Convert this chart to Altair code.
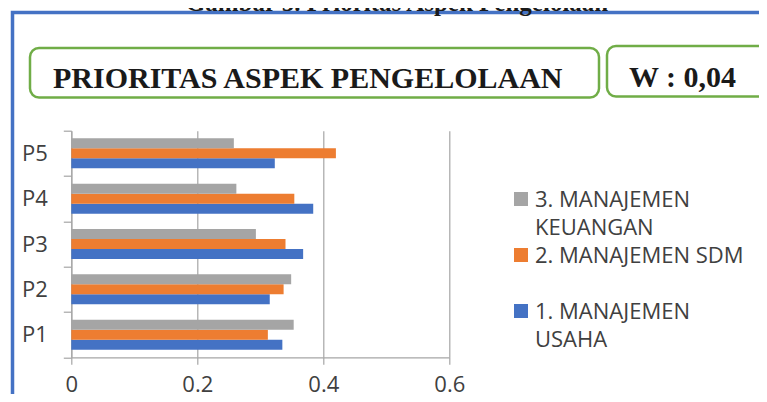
import altair as alt
import pandas as pd

# ---- data ----
categories = ["P1", "P2", "P3", "P4", "P5"]
series = ["1. MANAJEMEN USAHA", "2. MANAJEMEN SDM", "3. MANAJEMEN KEUANGAN"]
usaha = [0.335, 0.315, 0.368, 0.384, 0.323]
sdm = [0.312, 0.337, 0.340, 0.354, 0.420]
keuangan = [0.353, 0.349, 0.293, 0.262, 0.258]
colors = ["#4472c4", "#ed7d31", "#a5a5a5"]
x_ticks = [0, 0.2, 0.4, 0.6]
chart_title = "PRIORITAS ASPEK PENGELOLAAN"
weight_label = "W : 0,04"
caption = "Gambar 5. Prioritas Aspek Pengelolaan"

rows = []
for s, vals in zip(series, [usaha, sdm, keuangan]):
    for c, v in zip(categories, vals):
        rows.append({"cat": c, "series": s, "value": v})
df = pd.DataFrame(rows)

# legend entries (top to bottom), long names wrapped as in the reference
leg_order = series[::-1]
leg_df = pd.DataFrame({
    "series": leg_order,
    "label": [s.replace("MANAJEMEN ", "MANAJEMEN\n") if len(s) > 16 else s
              for s in leg_order],
})

W, H = 378, 226.6
PL, PT = 63.3, 122.7
TOTW, TOTH = 751, 386

FONT = "Open Sans"
GRID = "#a6a6a6"
TXT = "#404040"

one = pd.DataFrame({"k": [0]})

frame = alt.Chart(one).mark_rect(
    fillOpacity=0, stroke="#4472c4", strokeWidth=3.5
).encode(
    x=alt.value(4.5 - PL), x2=alt.value(TOTW + 20 - PL),
    y=alt.value(4.5 - PT), y2=alt.value(TOTH + 20 - PT),
)

box1 = alt.Chart(one).mark_rect(
    fillOpacity=0, stroke="#70ad47", strokeWidth=2.5, cornerRadius=9
).encode(
    x=alt.value(22 - PL), x2=alt.value(591 - PL),
    y=alt.value(40 - PT), y2=alt.value(89.5 - PT),
)
box2 = alt.Chart(one).mark_rect(
    fillOpacity=0, stroke="#70ad47", strokeWidth=2.5, cornerRadius=9
).encode(
    x=alt.value(599 - PL), x2=alt.value(TOTW + 30 - PL),
    y=alt.value(38 - PT), y2=alt.value(88.5 - PT),
)

title_txt = alt.Chart(pd.DataFrame({"t": [chart_title]})).mark_text(
    font="Liberation Serif", fontWeight="bold", fontSize=30, color="#1a1a1a",
    align="left", baseline="alphabetic"
).encode(text="t:N", x=alt.value(45 - PL), y=alt.value(80 - PT))

w_txt = alt.Chart(pd.DataFrame({"t": [weight_label]})).mark_text(
    font="Liberation Serif", fontWeight="bold", fontSize=30, color="#1a1a1a",
    align="left", baseline="alphabetic"
).encode(text="t:N", x=alt.value(621 - PL), y=alt.value(79 - PT))

cap_txt = alt.Chart(pd.DataFrame({"t": [caption]})).mark_text(
    font="Liberation Serif", fontWeight="bold", fontSize=25, color="#1a1a1a",
    align="center", baseline="alphabetic"
).encode(text="t:N", x=alt.value(389 - PL), y=alt.value(3 - PT))

bars = alt.Chart(df).mark_bar().encode(
    x=alt.X("value:Q",
            scale=alt.Scale(domain=[0, 0.6], nice=False, zero=True),
            axis=alt.Axis(values=x_ticks, format=".1~f", title=None, grid=True,
                          gridColor=GRID, gridWidth=1.2, domainColor=GRID,
                          domainWidth=1.2, tickColor=GRID, tickWidth=1.2,
                          tickSize=7, labelPadding=10, labelFont=FONT,
                          labelFontSize=22, labelColor=TXT, labelFlush=False)),
    y=alt.Y("cat:N", sort=categories[::-1],
            scale=alt.Scale(paddingInner=0, paddingOuter=0),
            axis=alt.Axis(title=None, tickBand="extent", grid=False,
                          domainColor=GRID, domainWidth=1.2, tickColor=GRID,
                          tickWidth=1.2, tickSize=8, labelPadding=16,
                          labelFont=FONT, labelFontSize=22, labelColor=TXT)),
    yOffset=alt.YOffset("series:N", sort=series[::-1],
                        scale=alt.Scale(paddingInner=0, paddingOuter=0.767)),
    color=alt.Color("series:N",
                    scale=alt.Scale(domain=series[::-1], range=colors[::-1]),
                    legend=None),
)

# legend: evenly spaced entries on their own point scale
leg_y = alt.Y("series:N", sort=leg_order, axis=None,
              scale=alt.Scale(type="point", range=[191 - PT, 303 - PT], padding=0))

leg_sq = alt.Chart(leg_df).mark_square(size=196, opacity=1, strokeWidth=0).encode(
    x=alt.value(513 - PL),
    y=leg_y,
    color=alt.Color("series:N", legend=None),
)
leg_tx = alt.Chart(leg_df).mark_text(
    font=FONT, fontSize=22, color=TXT, align="left", baseline="alphabetic",
    lineBreak="\n", lineHeight=28.3, dy=7.7
).encode(
    x=alt.value(527 - PL),
    y=leg_y,
    text="label:N",
)
legend = alt.layer(leg_sq, leg_tx)

chart = alt.layer(frame, box1, box2, title_txt, w_txt, cap_txt, bars, legend).resolve_scale(
    y="independent"
).properties(
    width=W, height=H,
    padding={"left": PL, "top": PT, "right": TOTW - PL - W, "bottom": TOTH - PT - H},
    autosize=alt.AutoSizeParams(type="none"),
    background="white",
).configure_view(stroke="transparent")

chart.save("out.html", embed_options={"renderer": "svg", "actions": False})
